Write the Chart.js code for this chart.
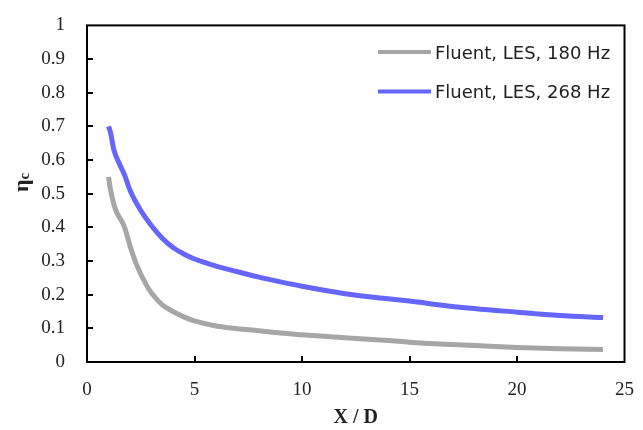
<!DOCTYPE html>
<html>
<head>
<meta charset="utf-8">
<script src="https://cdn.jsdelivr.net/npm/chart.js@4/dist/chart.umd.min.js"></script>
<style>
  html, body { margin: 0; padding: 0; background: #fff; }
  #wrap { width: 643px; height: 430px; }
</style>
</head>
<body>
<div id="wrap"><canvas id="effChart" width="643" height="430"></canvas></div>
<script>
// X/D positions and centreline effectiveness
const xd180 = [1, 1.1, 1.25, 1.4, 1.6, 1.75, 2, 2.3, 2.75, 3, 3.5, 4, 4.5, 5, 6, 7, 8, 9, 10, 12, 14, 15, 17, 20, 22, 24];
const eta180 = [0.55, 0.51, 0.468, 0.442, 0.42, 0.40, 0.345, 0.29, 0.23, 0.205, 0.17, 0.15, 0.134, 0.122, 0.107, 0.099, 0.093, 0.086, 0.081, 0.072, 0.064, 0.059, 0.052, 0.043, 0.039, 0.037];

const xd268 = [1, 1.1, 1.25, 1.5, 1.75, 2, 2.5, 3, 3.5, 4, 4.5, 5, 5.5, 6, 7, 8, 9, 10, 12, 14, 15, 17, 20, 22, 24];
const eta268 = [0.70, 0.68, 0.63, 0.59, 0.555, 0.51, 0.45, 0.405, 0.368, 0.34, 0.321, 0.306, 0.295, 0.285, 0.268, 0.252, 0.238, 0.225, 0.203, 0.188, 0.181, 0.165, 0.148, 0.138, 0.132];

const seriesLabels = ['Fluent, LES, 180 Hz', 'Fluent, LES, 268 Hz'];
const xTicks = [0, 5, 10, 15, 20, 25];
const yTicks = [0, 0.1, 0.2, 0.3, 0.4, 0.5, 0.6, 0.7, 0.8, 0.9, 1];

const serif = '"Liberation Serif", "Times New Roman", serif';
const toPoints = (xs, ys) => xs.map((x, i) => ({ x: x, y: ys[i] }));

// frame, inward ticks, y title (eta with small c) and the legend inside the plot
const framePlugin = {
    id: 'frame',
    afterDraw(chart) {
        const { ctx, chartArea: a, scales } = chart;
        ctx.save();
        ctx.strokeStyle = '#000';
        ctx.lineWidth = 2;
        ctx.strokeRect(a.left, a.top, a.right - a.left, a.bottom - a.top);

        ctx.beginPath();
        yTicks.forEach(v => {
            const y = Math.round(scales.y.getPixelForValue(v));
            if (v > 0 && v < 1) {
                ctx.moveTo(a.left, y);
                ctx.lineTo(a.left + 6, y);
            }
        });
        xTicks.forEach(v => {
            const x = Math.round(scales.x.getPixelForValue(v));
            if (v > 0 && v < 25) {
                ctx.moveTo(x, a.bottom);
                ctx.lineTo(x, a.bottom - 6);
            }
        });
        ctx.stroke();

        // y axis title
        ctx.save();
        ctx.translate(28, 192);
        ctx.rotate(-Math.PI / 2);
        ctx.fillStyle = '#222';
        ctx.textBaseline = 'alphabetic';
        ctx.textAlign = 'left';
        ctx.font = 'bold 22px ' + serif;
        ctx.fillText('η', 0, 0);
        const w = ctx.measureText('η').width;
        ctx.font = 'bold 15px ' + serif;
        ctx.fillText('c', w, 1);
        ctx.restore();

        // legend
        ctx.font = '18px "DejaVu Sans", Verdana, sans-serif';
        ctx.textBaseline = 'alphabetic';
        ctx.textAlign = 'left';
        chart.data.datasets.forEach((ds, i) => {
            const y = 52 + i * 39.5;
            ctx.strokeStyle = ds.borderColor;
            ctx.lineWidth = 4;
            ctx.beginPath();
            ctx.moveTo(378, y);
            ctx.lineTo(431, y);
            ctx.stroke();
            ctx.fillStyle = '#222';
            ctx.fillText(ds.label, 435, y + 6.5);
        });
        ctx.restore();
    }
};

const chart = new Chart(document.getElementById('effChart'), {
    type: 'line',
    data: {
        datasets: [{
            label: seriesLabels[0],
            data: toPoints(xd180, eta180),
            borderColor: '#a6a6a6',
            borderWidth: 5,
            pointRadius: 0,
            cubicInterpolationMode: 'monotone',
            fill: false
        }, {
            label: seriesLabels[1],
            data: toPoints(xd268, eta268),
            borderColor: '#6666ff',
            borderWidth: 5,
            pointRadius: 0,
            cubicInterpolationMode: 'monotone',
            fill: false
        }]
    },
    options: {
        responsive: false,
        animation: false,
        layout: { padding: { top: 20, right: 10, left: 0, bottom: 0 } },
        plugins: {
            legend: { display: false },
            tooltip: { enabled: false }
        },
        scales: {
            x: {
                type: 'linear',
                min: 0,
                max: 25,
                afterBuildTicks: s => { s.ticks = xTicks.map(v => ({ value: v })); },
                grid: { display: false },
                border: { display: false },
                ticks: {
                    color: '#222',
                    padding: 9,
                    maxRotation: 0,
                    font: { family: serif, size: 19 }
                },
                title: {
                    display: true,
                    text: 'X / D',
                    color: '#222',
                    padding: { top: 6, bottom: 0 },
                    font: { family: serif, size: 20, weight: 'bold' }
                },
                afterFit: s => { s.height = 68; }
            },
            y: {
                min: 0,
                max: 1,
                afterBuildTicks: s => { s.ticks = yTicks.map(v => ({ value: v })); },
                grid: { display: false },
                border: { display: false },
                ticks: {
                    color: '#222',
                    padding: 14,
                    callback: v => String(+v.toFixed(1)),
                    font: { family: serif, size: 19 }
                },
                afterFit: s => { s.width = 87; }
            }
        }
    },
    plugins: [framePlugin]
});
</script>
</body>
</html>
